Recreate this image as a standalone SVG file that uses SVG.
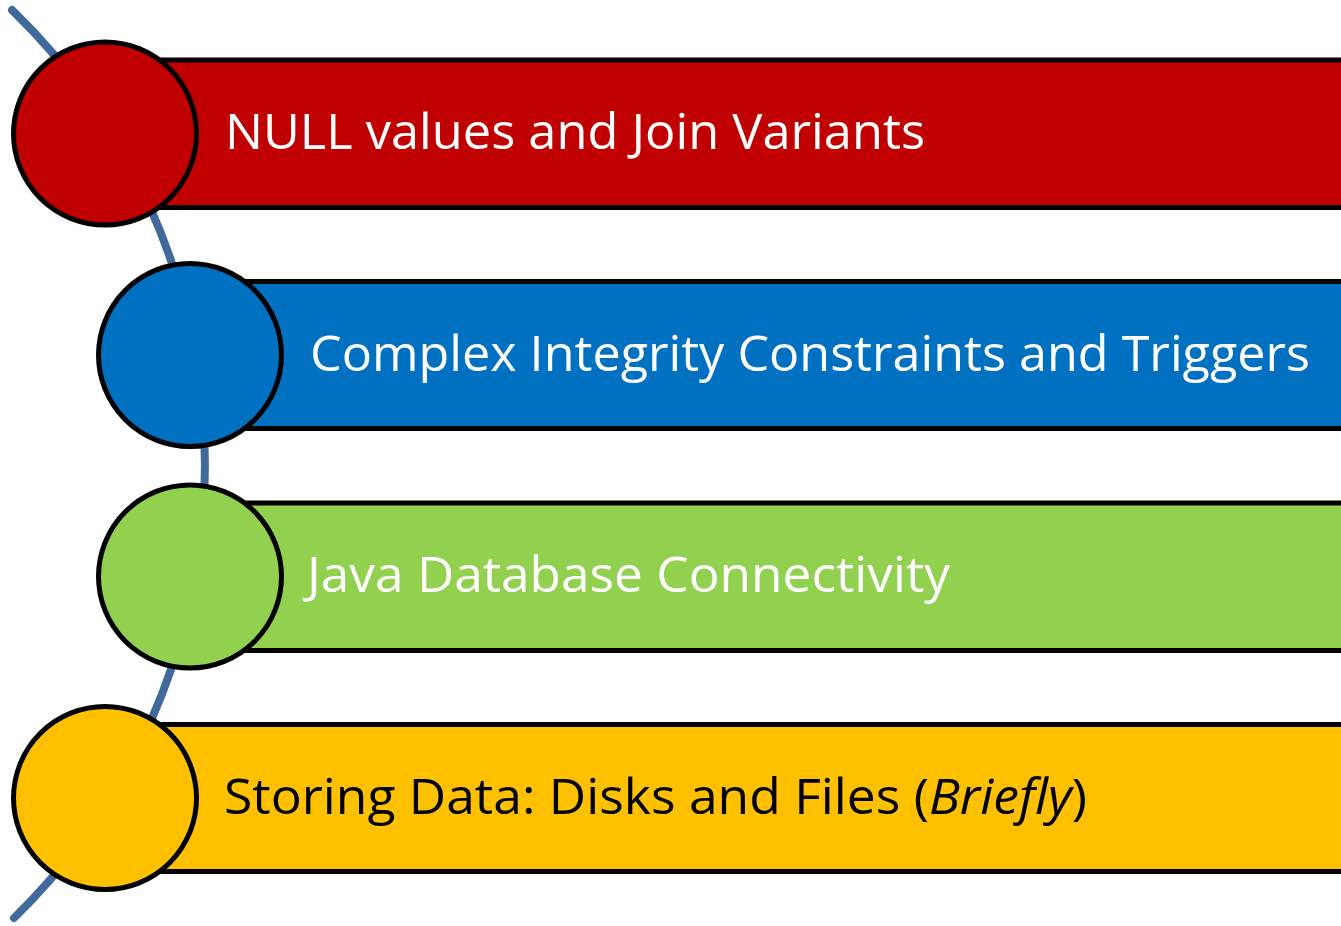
<svg xmlns="http://www.w3.org/2000/svg" width="1341" height="926" viewBox="0 0 1341 926">
<style>
.bar{stroke:#000;stroke-width:5}
.dot{stroke:#000;stroke-width:5}
.lbl{font-family:"Open Sans","Noto Sans","Liberation Sans",sans-serif;font-size:50px}
.w{fill:#fff}
.k{fill:#000}
.arc{fill:none;stroke:#41699B;stroke-width:8;stroke-linecap:round}
</style>
<rect width="1341" height="926" fill="#fff"/>
<g id="connectors">
<path class="arc" d="M12,10 A633,633 0 0,1 14,918"/>
</g>
<g id="node1">
<rect class="bar" x="105" y="60" width="1250" height="147.5" fill="#C00000"/>
<circle class="dot" cx="105" cy="133.5" r="91.5" fill="#C00000"/>
<text class="lbl w" x="225" y="149" textLength="700" lengthAdjust="spacingAndGlyphs">NULL values and Join Variants</text>
</g>
<g id="node2">
<rect class="bar" x="190" y="281.5" width="1170" height="147" fill="#0070C0"/>
<circle class="dot" cx="190" cy="355" r="91.5" fill="#0070C0"/>
<text class="lbl w" x="310" y="371" textLength="1000" lengthAdjust="spacingAndGlyphs">Complex Integrity Constraints and Triggers</text>
</g>
<g id="node3">
<rect class="bar" x="190" y="503" width="1170" height="147.5" fill="#92D050"/>
<circle class="dot" cx="190" cy="576.5" r="91.5" fill="#92D050"/>
<text class="lbl w" x="307" y="592" textLength="643" lengthAdjust="spacingAndGlyphs">Java Database Connectivity</text>
</g>
<g id="node4">
<rect class="bar" x="105" y="724.5" width="1250" height="147" fill="#FFC000"/>
<circle class="dot" cx="105" cy="798" r="91.5" fill="#FFC000"/>
<text class="lbl k" x="224" y="814" textLength="863" lengthAdjust="spacingAndGlyphs">Storing Data: Disks and Files (<tspan font-style="italic">Briefly</tspan>)</text>
</g>
</svg>
